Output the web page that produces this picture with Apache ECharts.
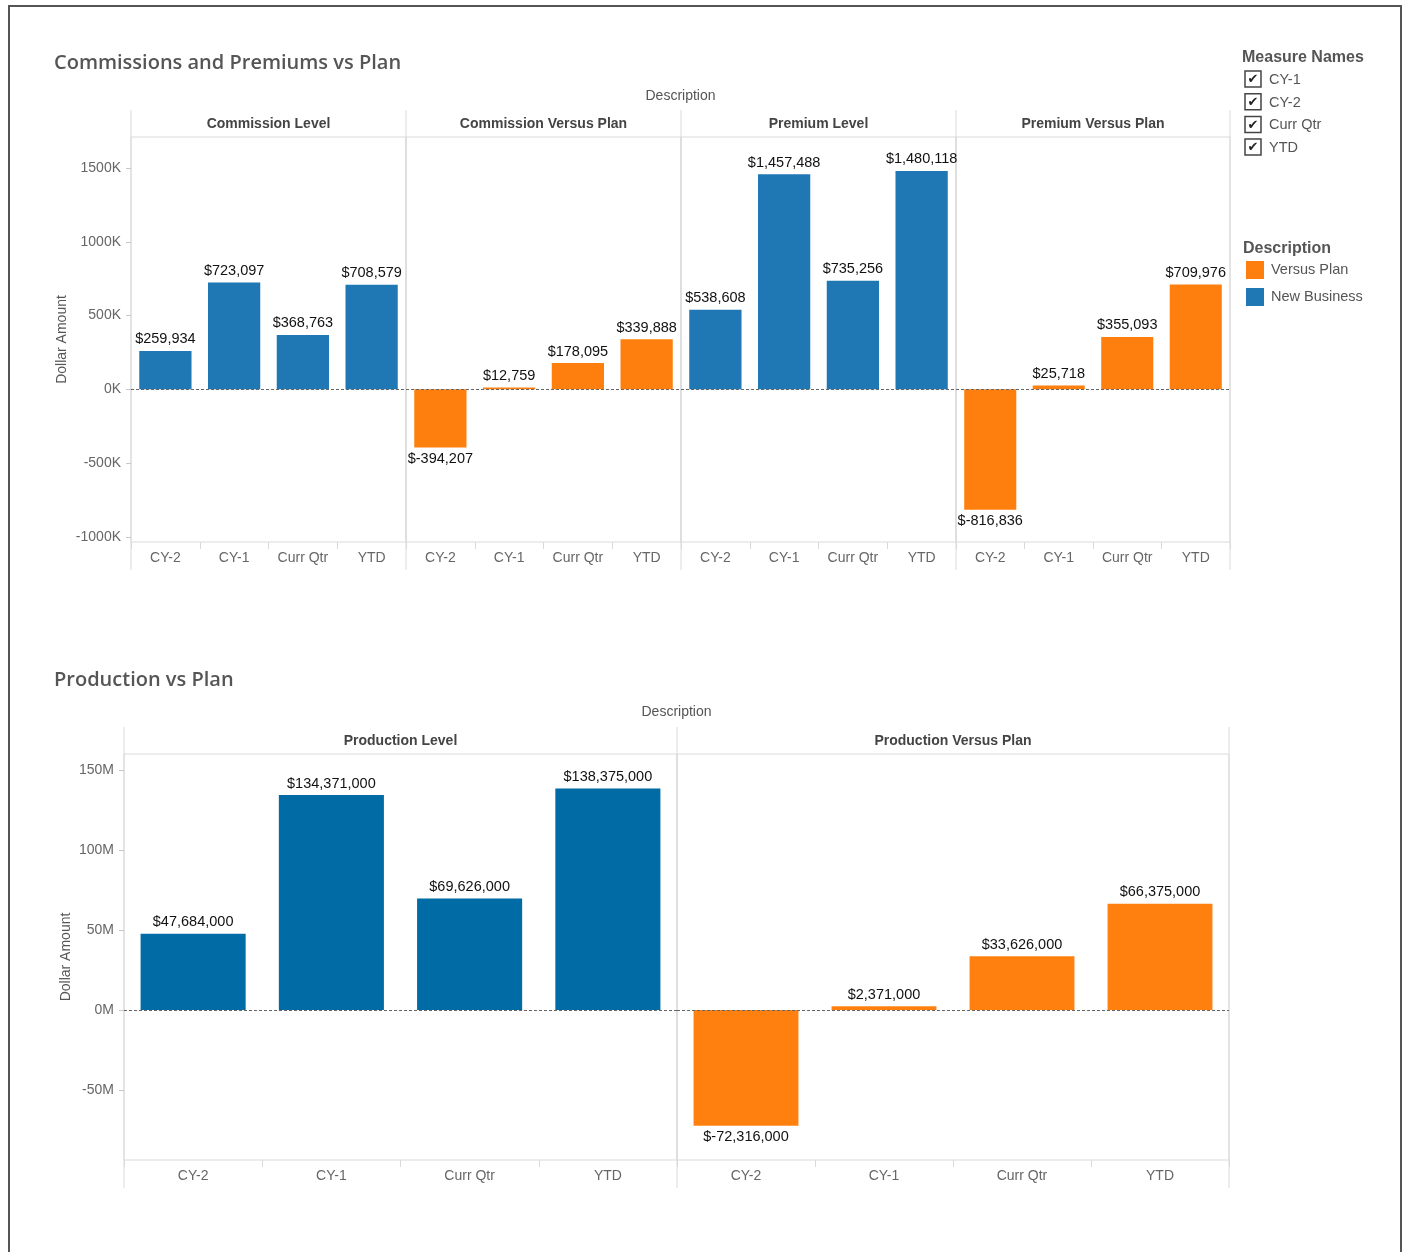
<!DOCTYPE html>
<html>
<head>
<meta charset="utf-8">
<script src="https://cdn.jsdelivr.net/npm/echarts@6/dist/echarts.min.js"></script>
<style>
html, body { margin: 0; padding: 0; background: #fff; }
#chartDiv { width: 1406px; height: 1252px; }
</style>
</head>
<body>
<div id="chartDiv"></div>
<script>
var periods = ['CY-2', 'CY-1', 'Curr Qtr', 'YTD'];

var topPanels = ['Commission Level', 'Commission Versus Plan', 'Premium Level', 'Premium Versus Plan'];
var commissionLevel = [259934, 723097, 368763, 708579];
var commissionVsPlan = [-394207, 12759, 178095, 339888];
var premiumLevel = [538608, 1457488, 735256, 1480118];
var premiumVsPlan = [-816836, 25718, 355093, 709976];
var topTicks = [-1000000, -500000, 0, 500000, 1000000, 1500000];

var bottomPanels = ['Production Level', 'Production Versus Plan'];
var productionLevel = [47684000, 134371000, 69626000, 138375000];
var productionVsPlan = [-72316000, 2371000, 33626000, 66375000];
var bottomTicks = [-50000000, 0, 50000000, 100000000, 150000000];

var measureNames = ['CY-1', 'CY-2', 'Curr Qtr', 'YTD'];
var descriptions = ['Versus Plan', 'New Business'];

var myChart = echarts.init(document.getElementById('chartDiv'));

var FONT = '"Liberation Sans", Arial, sans-serif';
var LINE = '#dadada';

// panel layout
var topEdges = [131, 406, 681, 956, 1230];
var topY = 137, topH = 405;
var bottomEdges = [124, 677, 1229];
var bottomY = 754, bottomH = 406;

var grid = [], xAxis = [], yAxis = [], series = [], graphic = [];

function money(v) {
    return '$' + v.toLocaleString('en-US');
}

function addPanel(left, right, top, height, values, name, color, yOpt, first) {
    var idx = grid.length;
    grid.push({
        left: left, top: top, width: right - left, height: height,
        show: true, borderColor: LINE, borderWidth: 1, backgroundColor: 'transparent'
    });
    xAxis.push({
        type: 'category', gridIndex: idx, data: periods,
        axisLine: { show: false, onZero: false },
        axisTick: { show: true, interval: 0, length: 7, lineStyle: { color: LINE } },
        axisLabel: { color: '#666', fontSize: 14, fontFamily: FONT, margin: 9, interval: 0 }
    });
    yAxis.push(Object.assign({
        type: 'value', gridIndex: idx, show: first,
        splitLine: { show: false },
        axisLine: { show: false },
        name: 'Dollar Amount', nameLocation: 'middle', nameRotate: 90,
        nameTextStyle: { color: '#555', fontSize: 14, fontFamily: FONT }
    }, yOpt));
    series.push({
        type: 'bar', name: name, xAxisIndex: idx, yAxisIndex: idx,
        barCategoryGap: '24%',
        itemStyle: { color: color },
        data: values.map(function (v) {
            return { value: v, label: { position: v < 0 ? 'bottom' : 'top' } };
        }),
        label: {
            show: true, distance: 4, color: '#111', fontSize: 14.5, fontFamily: FONT,
            formatter: function (p) { return money(p.value); }
        },
        markLine: {
            silent: true, symbol: 'none', label: { show: false },
            lineStyle: { color: '#666', type: [3, 2], width: 1 },
            data: [{ yAxis: 0 }]
        }
    });
}

var topValues = [commissionLevel, commissionVsPlan, premiumLevel, premiumVsPlan];
var topYOpt = {
    min: -1035000, max: 1710000, nameGap: 62,
    axisTick: { show: true, length: 5, customValues: topTicks, lineStyle: { color: '#c8c8c8' } },
    axisLabel: {
        color: '#666', fontSize: 14, fontFamily: FONT, margin: 10, customValues: topTicks,
        formatter: function (v) { return (v / 1000) + 'K'; }
    }
};
topValues.forEach(function (vals, i) {
    var versus = i % 2 === 1;
    addPanel(topEdges[i], topEdges[i + 1], topY, topH, vals,
        versus ? 'Versus Plan' : 'New Business',
        versus ? '#ff7f0e' : '#1f77b4', topYOpt, i === 0);
});

var bottomValues = [productionLevel, productionVsPlan];
var bottomYOpt = {
    min: -93750000, max: 160000000, nameGap: 51,
    axisTick: { show: true, length: 5, customValues: bottomTicks, lineStyle: { color: '#c8c8c8' } },
    axisLabel: {
        color: '#666', fontSize: 14, fontFamily: FONT, margin: 10, customValues: bottomTicks,
        formatter: function (v) { return (v / 1000000) + 'M'; }
    }
};
bottomValues.forEach(function (vals, i) {
    var versus = i % 2 === 1;
    addPanel(bottomEdges[i], bottomEdges[i + 1], bottomY, bottomH, vals,
        versus ? 'Versus Plan' : 'New Business',
        versus ? '#ff800e' : '#006ba4', bottomYOpt, i === 0);
});

// panel dividers and headers
function addFrame(edges, names, headTop, plotTop, plotBottom, descY) {
    edges.forEach(function (x) {
        graphic.push({
            type: 'line', silent: true,
            shape: { x1: x, y1: headTop, x2: x, y2: plotBottom + 28 },
            style: { stroke: LINE, lineWidth: 1 }
        });
    });
    names.forEach(function (n, i) {
        graphic.push({
            type: 'text', silent: true,
            style: {
                text: n, x: (edges[i] + edges[i + 1]) / 2, y: (headTop + plotTop) / 2 + 1,
                textAlign: 'center', textVerticalAlign: 'middle',
                font: 'bold 14px ' + FONT, fill: '#444'
            }
        });
    });
    graphic.push({
        type: 'text', silent: true,
        style: {
            text: 'Description', x: (edges[0] + edges[edges.length - 1]) / 2, y: descY,
            textAlign: 'center', textVerticalAlign: 'middle',
            font: '14px ' + FONT, fill: '#555'
        }
    });
}
addFrame(topEdges, topPanels, 110, topY, topY + topH, 96);
addFrame(bottomEdges, bottomPanels, 727, bottomY, bottomY + bottomH, 712);

// section titles
[['Commissions and Premiums vs Plan', 63], ['Production vs Plan', 680]].forEach(function (t) {
    graphic.push({
        type: 'text', silent: true,
        style: {
            text: t[0], x: 54, y: t[1], textVerticalAlign: 'middle',
            font: '600 20px "Open Sans", sans-serif', fill: '#555'
        }
    });
});

// Measure Names filter
graphic.push({
    type: 'text', silent: true,
    style: { text: 'Measure Names', x: 1242, y: 58, textVerticalAlign: 'middle', font: 'bold 16px ' + FONT, fill: '#555' }
});
measureNames.forEach(function (m, i) {
    var cy = 79 + i * 22.7;
    graphic.push({
        type: 'rect', silent: true,
        shape: { x: 1245, y: cy - 8, width: 16, height: 16 },
        style: { fill: '#fff', stroke: '#444', lineWidth: 1.5 }
    });
    graphic.push({
        type: 'text', silent: true,
        style: { text: '\u2714', x: 1253, y: cy + 1, textAlign: 'center', textVerticalAlign: 'middle', font: 'bold 13px "DejaVu Sans"', fill: '#222' }
    });
    graphic.push({
        type: 'text', silent: true,
        style: { text: m, x: 1269, y: cy + 1, textVerticalAlign: 'middle', font: '14.5px ' + FONT, fill: '#555' }
    });
});

// Description legend title
graphic.push({
    type: 'text', silent: true,
    style: { text: 'Description', x: 1243, y: 249, textVerticalAlign: 'middle', font: 'bold 16px ' + FONT, fill: '#555' }
});

// outer frame
graphic.push({
    type: 'rect', silent: true,
    shape: { x: 9, y: 6, width: 1392, height: 1260 },
    style: { fill: 'none', stroke: '#555', lineWidth: 2 }
});

option = {
    animation: false,
    backgroundColor: '#fff',
    legend: {
        data: descriptions,
        orient: 'vertical',
        left: 1246, top: 261,
        itemWidth: 18, itemHeight: 18, itemGap: 9,
        icon: 'rect',
        selectedMode: false,
        textStyle: { color: '#555', fontSize: 14.5, fontFamily: FONT, padding: [0, 0, 0, 2] },
        padding: 0
    },
    grid: grid,
    xAxis: xAxis,
    yAxis: yAxis,
    series: series,
    graphic: graphic
};
myChart.setOption(option);
</script>
</body>
</html>
